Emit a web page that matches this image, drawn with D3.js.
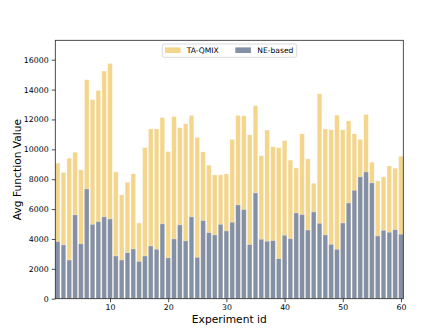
<!DOCTYPE html>
<html lang="en">
<head>
    <meta charset="utf-8">
    <title>Avg Function Value per experiment</title>
    <script src="https://d3js.org/d3.v7.min.js"></script>
    <style>
        body { margin: 0; background: #fff; }
        svg { display: block; font-family: "DejaVu Sans", sans-serif; }
    </style>
</head>
<body>
<svg width="448" height="336"></svg>
<script>
// experiment ids 1..60
var experimentIds = d3.range(1, 61);

// TA-QMIX (back bars)
var taQmix = [
    9080, 8450, 9410, 9810, 8630, 14660, 13320, 13940, 15240, 15750,
    8490, 6950, 7800, 8360, 5070, 10120, 11370, 11370, 12130, 9850,
    12200, 11440, 11710, 12270, 10790, 9830, 8940, 8290, 8290, 8360,
    10660, 12270, 12240, 10970, 12920, 9580, 11290, 10170, 10120, 10590,
    9280, 8760, 11040, 9360, 7730, 13720, 11370, 11310, 12290, 11310,
    11910, 11040, 10660, 12330, 9140, 7890, 8160, 8890, 8740, 9540
];

// NE-based (front bars)
var neBased = [
    3820, 3600, 2590, 5610, 3670, 7350, 4980, 5160, 5480, 5340,
    2860, 2590, 3080, 3330, 2500, 2860, 3530, 3310, 5010, 2730,
    4000, 4940, 3870, 5480, 2770, 5230, 4420, 4270, 4980, 4540,
    5120, 6280, 5970, 3620, 7080, 3980, 3850, 3890, 2680, 4250,
    4020, 5740, 5630, 4600, 5810, 5050, 4270, 3640, 3310, 5070,
    6410, 7260, 8160, 8490, 7750, 4200, 4580, 4450, 4620, 4320
];

var seriesNames = ["TA-QMIX", "NE-based"];
var yTicks = d3.range(0, 16001, 2000);
var xTicks = [10, 20, 30, 40, 50, 60];

var color = {
    ta: "#f3d58c",
    ne: "#8490a5",
    spine: "#222"
};

var svg = d3.select("svg");
var plot = { left: 55.3, right: 403.3, top: 40.3, bottom: 298.7 };

var x = d3.scaleLinear().domain([0.6, 60.4]).range([plot.left, plot.right]);
var y = d3.scaleLinear().domain([0, 17300]).range([plot.bottom, plot.top]);
var barW = 0.8;

// 後ろの棒 (TA-QMIX)
svg.append("g").selectAll("rect")
    .data(experimentIds)
    .join("rect")
    .attr("x", function(d){ return x(d - barW / 2); })
    .attr("width", function(d){ return x(d + barW / 2) - x(d - barW / 2); })
    .attr("y", function(d, i){ return y(taQmix[i]); })
    .attr("height", function(d, i){ return y(0) - y(taQmix[i]); })
    .attr("fill", color.ta)
    .attr("stroke", "#fff")
    .attr("stroke-opacity", 0.5)
    .attr("stroke-width", 0.6);

// 前の棒 (NE-based)
svg.append("g").selectAll("rect")
    .data(experimentIds)
    .join("rect")
    .attr("x", function(d){ return x(d - barW / 2); })
    .attr("width", function(d){ return x(d + barW / 2) - x(d - barW / 2); })
    .attr("y", function(d, i){ return y(neBased[i]); })
    .attr("height", function(d, i){ return y(0) - y(neBased[i]); })
    .attr("fill", color.ne)
    .attr("stroke", "#fff")
    .attr("stroke-opacity", 0.5)
    .attr("stroke-width", 0.6);

// axes
var yAxis = svg.append("g")
    .attr("transform", "translate(" + plot.left + ",0)")
    .call(d3.axisLeft(y).tickValues(yTicks).tickSize(3.5).tickPadding(3.2).tickFormat(d3.format("d")));
var xAxis = svg.append("g")
    .attr("transform", "translate(0," + plot.bottom + ")")
    .call(d3.axisBottom(x).tickValues(xTicks).tickSize(3.5).tickPadding(2.5));

[yAxis, xAxis].forEach(function(g){
    g.select(".domain").remove();
    g.selectAll(".tick line").attr("stroke", color.spine).attr("stroke-width", 0.8);
    g.selectAll(".tick text").attr("fill", "#000").style("font-size", "7.8px")
        .style("font-family", "'DejaVu Sans', sans-serif");
});

// frame
svg.append("rect")
    .attr("x", plot.left).attr("y", plot.top)
    .attr("width", plot.right - plot.left).attr("height", plot.bottom - plot.top)
    .attr("fill", "none").attr("stroke", color.spine).attr("stroke-width", 0.8);

// axis labels
svg.append("text")
    .attr("x", (plot.left + plot.right) / 2).attr("y", 322.5)
    .attr("text-anchor", "middle").style("font-size", "10.7px")
    .text("Experiment id");
svg.append("text")
    .attr("transform", "translate(20.5," + ((plot.top + plot.bottom) / 2) + ") rotate(-90)")
    .attr("text-anchor", "middle").style("font-size", "10.7px")
    .text("Avg Function Value");

// legend
var legend = svg.append("g");
legend.append("rect")
    .attr("x", 162.3).attr("y", 44).attr("width", 134.4).attr("height", 13.3)
    .attr("rx", 2).attr("fill", "#fff").attr("fill-opacity", 0.8)
    .attr("stroke", "#d0d0d0").attr("stroke-width", 0.8);
var legendItems = [
    { name: seriesNames[0], fill: color.ta, px: 165, tx: 186.7 },
    { name: seriesNames[1], fill: color.ne, px: 235.3, tx: 257.3 }
];
legendItems.forEach(function(d){
    legend.append("rect")
        .attr("x", d.px).attr("y", 47.4).attr("width", 15.6).attr("height", 5.6)
        .attr("fill", d.fill);
    legend.append("text")
        .attr("x", d.tx).attr("y", 53.4)
        .style("font-size", "7.6px")
        .text(d.name);
});
</script>
</body>
</html>
